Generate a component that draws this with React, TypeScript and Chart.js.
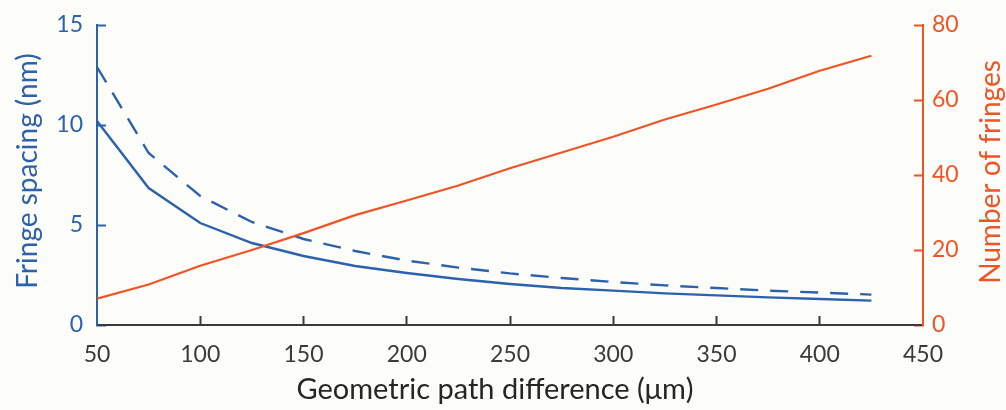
import React, { useEffect, useRef } from "react";
import { Chart, registerables } from "chart.js";

Chart.register(...registerables);

// Geometric path difference (µm)
const pathDiff = [50, 75, 100, 125, 150, 175, 200, 225, 250, 275, 300, 325, 350, 375, 400, 425];
// Fringe spacing (nm), solid curve
const spacingSolid = [10.2, 6.85, 5.1, 4.1, 3.45, 2.95, 2.6, 2.3, 2.05, 1.85, 1.72, 1.58, 1.48, 1.38, 1.3, 1.22];
// Fringe spacing (nm), dashed curve
const spacingDashed = [12.9, 8.6, 6.45, 5.15, 4.3, 3.7, 3.22, 2.87, 2.58, 2.35, 2.15, 1.98, 1.85, 1.72, 1.62, 1.52];
// Number of fringes
const fringeCount = [7, 10.8, 15.8, 20, 24.5, 29.3, 33.2, 37.2, 41.8, 46, 50.2, 54.8, 58.8, 63, 67.8, 71.8];

const xTitle = "Geometric path difference (\u03bcm)";
const leftTitle = "Fringe spacing (nm)";
const rightTitle = "Number of fringes";

const BLUE = "#2c62ab";
const ORANGE = "#ef5424";
const GREY = "#3a3a3a";
const BG = "#fcfcf9";
const FONT = "Lato, 'Open Sans', sans-serif";

export default function App() {
  const ref = useRef<HTMLCanvasElement | null>(null);

  useEffect(() => {
    document.body.style.margin = "0";
    const canvas = ref.current;
    if (!canvas) return;

    const titlePlugin = {
      id: "titlesAndBg",
      beforeDraw(chart: any) {
        const ctx = chart.ctx;
        ctx.save();
        ctx.fillStyle = BG;
        ctx.fillRect(0, 0, chart.width, chart.height);
        ctx.restore();
      },
      afterDraw(chart: any) {
        const ctx = chart.ctx;
        const a = chart.chartArea;
        const midY = (a.top + a.bottom) / 2;
        ctx.save();
        ctx.textAlign = "center";
        ctx.textBaseline = "middle";
        ctx.font = `29px ${FONT}`;
        ctx.fillStyle = "#262626";
        ctx.fillText(xTitle, (a.left + a.right) / 2 - 15, 390);

        ctx.font = `28px ${FONT}`;
        ctx.save();
        ctx.translate(28, midY - 4);
        ctx.rotate(-Math.PI / 2);
        ctx.fillStyle = BLUE;
        ctx.fillText(leftTitle, 0, 0);
        ctx.restore();

        ctx.save();
        ctx.translate(991, midY - 3);
        ctx.rotate(-Math.PI / 2);
        ctx.fillStyle = ORANGE;
        ctx.fillText(rightTitle, 0, 0);
        ctx.restore();
        ctx.restore();
      },
    };

    const tickFont = { family: FONT, size: 23 };

    const chart = new Chart(canvas, {
      type: "line",
      data: {
        labels: pathDiff,
        datasets: [
          {
            label: "Number of fringes",
            data: pathDiff.map((x, i) => ({ x, y: fringeCount[i] })),
            yAxisID: "y1",
            borderColor: ORANGE,
            borderWidth: 2.2,
            pointRadius: 0,
            tension: 0,
            order: 0,
          },
          {
            label: "Fringe spacing (solid)",
            data: pathDiff.map((x, i) => ({ x, y: spacingSolid[i] })),
            yAxisID: "y",
            borderColor: BLUE,
            borderWidth: 2.4,
            pointRadius: 0,
            tension: 0,
            order: 1,
          },
          {
            label: "Fringe spacing (dashed)",
            data: pathDiff.map((x, i) => ({ x, y: spacingDashed[i] })),
            yAxisID: "y",
            borderColor: BLUE,
            borderWidth: 2.4,
            borderDash: [18, 12],
            pointRadius: 0,
            tension: 0,
            order: 2,
          },
        ],
      },
      options: {
        responsive: false,
        maintainAspectRatio: false,
        devicePixelRatio: 1,
        animation: false,
        layout: { padding: { top: 25, left: 0, right: 0, bottom: 0 } },
        plugins: {
          legend: { display: false },
          tooltip: { enabled: false },
        },
        scales: {
          x: {
            type: "linear",
            position: "bottom",
            min: 50,
            max: 450,
            ticks: {
              stepSize: 50,
              autoSkip: false,
              maxRotation: 0,
              color: GREY,
              font: tickFont,
              padding: 25,
            },
            grid: {
              drawOnChartArea: false,
              drawTicks: true,
              tickLength: -9,
              tickWidth: 2,
              tickColor: (c: any) =>
                c.tick && (c.tick.value === 50 || c.tick.value === 450) ? "rgba(0,0,0,0)" : GREY,
            },
            border: { color: GREY, width: 2 },
            afterFit: (s: any) => {
              s.height = 85;
              s.paddingLeft = 0;
              s.paddingRight = 0;
            },
          },
          y: {
            type: "linear",
            position: "left",
            min: 0,
            max: 15,
            ticks: { stepSize: 5, color: BLUE, font: tickFont, padding: 23 },
            grid: {
              drawOnChartArea: false,
              drawTicks: true,
              tickLength: -9,
              tickWidth: 2,
              tickColor: BLUE,
            },
            border: { color: BLUE, width: 2 },
            afterFit: (s: any) => {
              s.width = 97;
              s.paddingTop = 0;
              s.paddingBottom = 0;
            },
          },
          y1: {
            type: "linear",
            position: "right",
            min: 0,
            max: 80,
            ticks: { stepSize: 20, color: ORANGE, font: tickFont, padding: 18 },
            grid: {
              drawOnChartArea: false,
              drawTicks: true,
              tickLength: -9,
              tickWidth: 2,
              tickColor: ORANGE,
            },
            border: { color: ORANGE, width: 2 },
            afterFit: (s: any) => {
              s.width = 83;
              s.paddingTop = 0;
              s.paddingBottom = 0;
            },
          },
        },
      },
      plugins: [titlePlugin],
    } as any);

    return () => chart.destroy();
  }, []);

  return (
    <div style={{ width: 1006, height: 410 }}>
      <canvas ref={ref} width={1006} height={410} style={{ display: "block", width: 1006, height: 410 }} />
    </div>
  );
}
